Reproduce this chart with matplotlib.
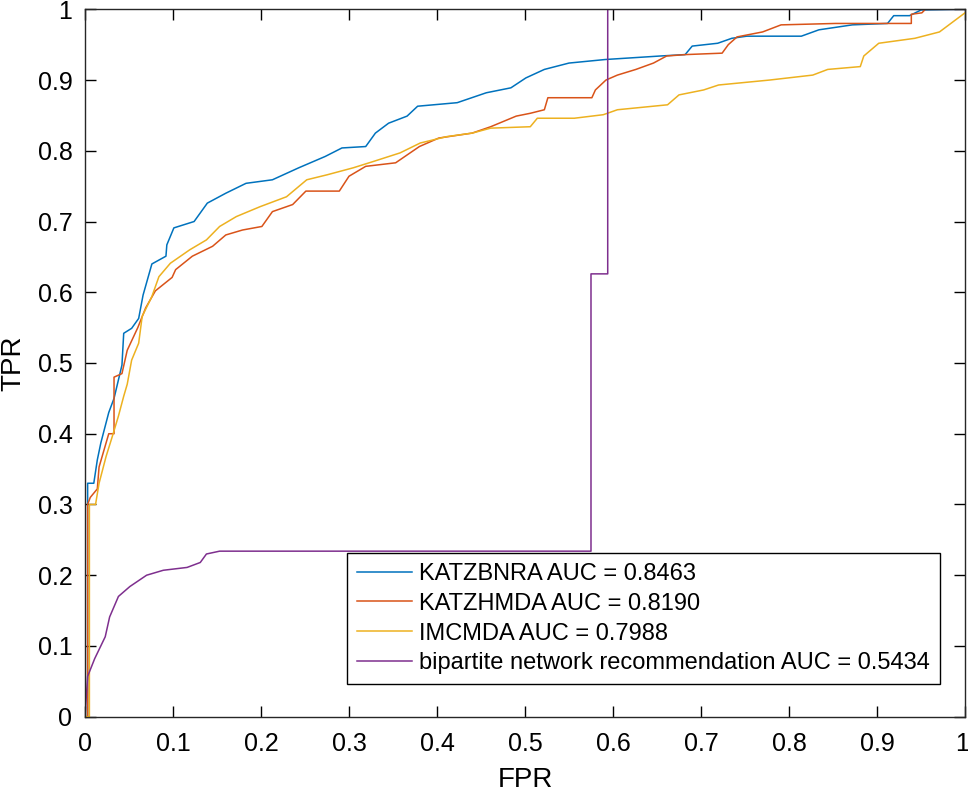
import matplotlib
matplotlib.use('Agg')
import matplotlib.pyplot as plt
import matplotlib.transforms as mtransforms

plt.rcParams['font.family'] = ['Liberation Sans', 'DejaVu Sans']

# ROC points (FPR, TPR)
katzbnra_fpr = [0, 0.003, 0.003, 0.010, 0.014, 0.018, 0.027, 0.033, 0.042, 0.044, 0.053, 0.061, 0.066,
                0.076, 0.092, 0.093, 0.101, 0.124, 0.139, 0.160, 0.183, 0.213, 0.243, 0.273, 0.292,
                0.319, 0.330, 0.345, 0.366, 0.378, 0.423, 0.456, 0.484, 0.501, 0.522, 0.550, 0.591,
                0.654, 0.682, 0.690, 0.719, 0.735, 0.752, 0.814, 0.834, 0.872, 0.912, 0.919, 0.937,
                0.950, 1.0]
katzbnra_tpr = [0, 0, 0.33, 0.33, 0.363, 0.387, 0.43, 0.45, 0.497, 0.542, 0.549, 0.563, 0.596,
                0.640, 0.651, 0.667, 0.691, 0.700, 0.726, 0.740, 0.754, 0.759, 0.776, 0.792, 0.804,
                0.806, 0.825, 0.839, 0.849, 0.863, 0.868, 0.882, 0.889, 0.903, 0.915, 0.924, 0.929,
                0.934, 0.936, 0.948, 0.952, 0.959, 0.962, 0.962, 0.971, 0.978, 0.980, 0.991, 0.991,
                0.999, 1.0]

katzhmda_fpr = [0, 0.003, 0.003, 0.006, 0.014, 0.016, 0.027, 0.033, 0.033, 0.042, 0.048, 0.060,
                0.069, 0.080, 0.099, 0.103, 0.122, 0.145, 0.160, 0.179, 0.201, 0.213, 0.236, 0.251,
                0.289, 0.300, 0.319, 0.353, 0.380, 0.402, 0.440, 0.461, 0.490, 0.506, 0.522, 0.526,
                0.576, 0.580, 0.592, 0.605, 0.626, 0.646, 0.661, 0.683, 0.724, 0.731, 0.741, 0.770,
                0.791, 0.853, 0.939, 0.939, 0.951, 0.955, 1.0]
katzhmda_tpr = [0, 0, 0.30, 0.31, 0.322, 0.353, 0.40, 0.40, 0.48, 0.485, 0.518, 0.55,
                0.578, 0.602, 0.621, 0.632, 0.651, 0.665, 0.681, 0.688, 0.693, 0.714, 0.724, 0.743,
                0.743, 0.764, 0.778, 0.783, 0.806, 0.818, 0.825, 0.834, 0.849, 0.853, 0.858, 0.875,
                0.875, 0.886, 0.900, 0.907, 0.915, 0.924, 0.934, 0.936, 0.938, 0.950, 0.961, 0.968,
                0.978, 0.980, 0.980, 0.993, 0.995, 1.0, 1.0]

imcmda_fpr = [0, 0.005, 0.005, 0.012, 0.016, 0.024, 0.031, 0.038, 0.044, 0.048, 0.053, 0.061,
              0.065, 0.076, 0.084, 0.097, 0.119, 0.138, 0.153, 0.172, 0.199, 0.229, 0.252, 0.275,
              0.305, 0.328, 0.358, 0.381, 0.411, 0.440, 0.461, 0.506, 0.514, 0.556, 0.589, 0.605,
              0.662, 0.675, 0.703, 0.720, 0.778, 0.827, 0.844, 0.881, 0.885, 0.902, 0.943, 0.971,
              1.0]
imcmda_tpr = [0, 0, 0.30, 0.30, 0.33, 0.368, 0.396, 0.425, 0.453, 0.47, 0.504, 0.528,
              0.566, 0.594, 0.622, 0.641, 0.660, 0.674, 0.693, 0.707, 0.721, 0.735, 0.759, 0.766,
              0.776, 0.785, 0.797, 0.811, 0.820, 0.825, 0.832, 0.834, 0.846, 0.846, 0.851, 0.858,
              0.865, 0.879, 0.886, 0.893, 0.900, 0.907, 0.915, 0.919, 0.934, 0.952, 0.959, 0.968,
              0.995]

bnr_fpr = [0, 0.003, 0.011, 0.023, 0.028, 0.038, 0.051, 0.070, 0.089, 0.116, 0.131, 0.138,
           0.153, 0.575, 0.575, 0.594, 0.594, 1.0]
bnr_tpr = [0, 0.057, 0.082, 0.113, 0.141, 0.170, 0.184, 0.200, 0.207, 0.211, 0.218, 0.230,
           0.234, 0.234, 0.626, 0.626, 1.0, 1.0]

labels = ['KATZBNRA AUC = 0.8463', 'KATZHMDA AUC = 0.8190', 'IMCMDA AUC = 0.7988',
          'bipartite network recommendation AUC = 0.5434']
colors = ['#0072BD', '#D95319', '#EDB120', '#7E2F8E']

fig = plt.figure(figsize=(9.68, 7.95), dpi=100)
ax = fig.add_axes([0.0878, 0.0985, 0.9091, 0.8898])

curves = [(katzbnra_fpr, katzbnra_tpr), (katzhmda_fpr, katzhmda_tpr),
          (imcmda_fpr, imcmda_tpr), (bnr_fpr, bnr_tpr)]
for (x, y), lab, c in zip(curves, labels, colors):
    ax.plot(x, y, color=c, lw=1.1, label=lab)

ax.set_xlim(0, 1)
ax.set_ylim(0, 1)
ticks = [i / 10 for i in range(11)]
ticklabels = ['0'] + ['%.1f' % t for t in ticks[1:-1]] + ['1']
ax.set_xticks(ticks)
ax.set_xticklabels(ticklabels)
ax.set_yticks(ticks)
ax.set_yticklabels(ticklabels)
ax.tick_params(direction='in', top=True, right=True, length=8, width=1, labelsize=18)
ax.tick_params(axis='x', pad=11)
ax.tick_params(axis='y', pad=9)
for s in ax.spines.values():
    s.set_linewidth(1.0)
    s.set_color('#262626')

# keep the last x label inside the figure
last = ax.get_xticklabels()[-1]
last.set_transform(last.get_transform() + mtransforms.ScaledTranslation(-3 / 100, 0, fig.dpi_scale_trans))

ax.set_xlabel('FPR', fontsize=20, labelpad=8)
ax.set_ylabel('TPR', fontsize=20, labelpad=8)

leg = ax.legend(loc='upper left', bbox_to_anchor=(347 / 968, 1 - 553 / 795),
                bbox_transform=fig.transFigure, borderaxespad=0, fontsize=17,
                frameon=True, fancybox=False, edgecolor='black', framealpha=1,
                handlelength=2.35, handletextpad=0.3, labelspacing=0.33,
                borderpad=0.42)
leg.get_frame().set_linewidth(1.0)

fig.savefig('out.png', dpi=100)
